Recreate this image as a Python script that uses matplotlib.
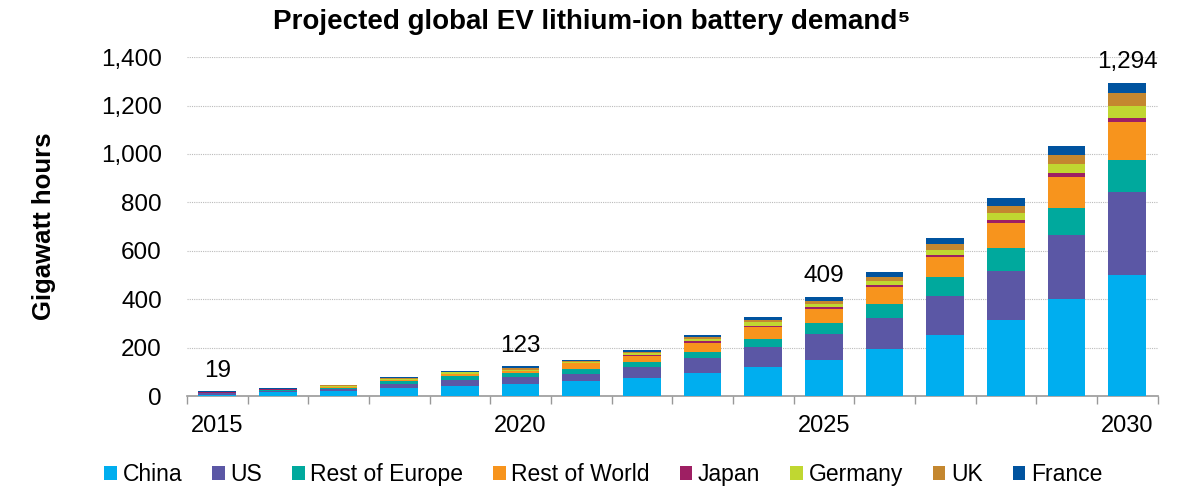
import matplotlib.pyplot as plt
import numpy as np

plt.rcParams['font.family'] = ['Liberation Sans', 'DejaVu Sans']

years = list(range(2015, 2031))
series = ["China", "US", "Rest of Europe", "Rest of World", "Japan", "Germany", "UK", "France"]
china = [6, 16, 20, 32, 43, 51, 61, 73, 94, 120, 150, 193, 250, 316, 401, 500]
us = [5, 5, 8, 19, 25, 28, 30, 47, 63, 83, 106, 130, 164, 202, 265, 344]
rest_europe = [2, 3, 5, 10, 13, 15, 19, 19, 25, 34, 45, 58, 76, 94, 112, 132]
rest_world = [1, 2, 4, 5, 9, 8, 25, 27, 39, 48, 59, 69, 84, 104, 128, 156]
japan = [1, 1, 2, 2, 2, 3, 3, 4, 5, 5, 7, 8, 8, 11, 15, 17]
germany = [1, 2, 2, 3, 6, 4, 3, 7, 10, 15, 14, 16, 23, 29, 37, 47]
uk = [2, 1, 3, 3, 3, 6, 4, 5, 7, 7, 11, 17, 22, 29, 39, 56]
france = [1, 2, 2, 3, 4, 8, 4, 7, 8, 13, 17, 21, 25, 33, 37, 42]
colors = ["#00AEEF", "#5B57A5", "#00A99D", "#F7941D", "#9E1F63", "#C0D731", "#C4872F", "#00539F"]
labelled = {2015: "19", 2020: "123", 2025: "409", 2030: "1,294"}

fig = plt.figure(figsize=(11.83, 4.88), dpi=100)
ax = fig.add_axes([0.158, 0.1885, 0.8205, 0.6945])

x = np.arange(len(years))
bottom = np.zeros(len(years))
handles = []
for name, vals, c in zip(series, [china, us, rest_europe, rest_world, japan, germany, uk, france], colors):
    vals = np.array(vals, dtype=float)
    b = ax.bar(x, vals, 0.62, bottom=bottom, color=c, edgecolor="none", label=name, zorder=3)
    handles.append(b)
    bottom += vals

for i, yr in enumerate(years):
    if yr in labelled:
        ax.annotate(labelled[yr], (x[i], bottom[i]), xytext=(0, 7), textcoords="offset points",
                    ha="center", va="bottom", fontsize=17.5)

ax.set_xlim(-0.5, len(years) - 0.5)
ax.set_ylim(0, 1400)
ax.set_yticks(range(0, 1401, 200))
ax.set_yticklabels([f"{v:,}" for v in range(0, 1401, 200)], fontsize=17.5)
ax.yaxis.grid(True, color="#BBBBBB", linestyle=(0, (1, 1)), linewidth=0.8, zorder=0)
ax.tick_params(axis="y", length=0, pad=18)

ax.set_xticks([i for i, yr in enumerate(years) if yr in labelled])
ax.set_xticklabels([str(yr) for yr in years if yr in labelled], fontsize=17)
ax.set_xticks(np.arange(-0.5, len(years)), minor=True)
ax.tick_params(axis="x", which="major", length=0, pad=14)
ax.tick_params(axis="x", which="minor", length=6, color="#999999", width=1)

for s in ["top", "right", "left"]:
    ax.spines[s].set_visible(False)
ax.spines["bottom"].set_color("#999999")
ax.spines["bottom"].set_linewidth(1.2)

ax.set_ylabel("Gigawatt hours", fontsize=18.5, fontweight="bold", labelpad=32)
fig.text(0.5, 0.955, "Projected global EV lithium-ion battery demand\u2075", ha="center", va="center",
         fontsize=20, fontweight="bold")

fig.legend(handles=handles, labels=series, loc="center", bbox_to_anchor=(0.51, 0.028), ncol=8,
           frameon=False, fontsize=16.5, handlelength=0.55, handleheight=0.55, handletextpad=0.25,
           columnspacing=1.3)

fig.savefig("out.png", dpi=100)
